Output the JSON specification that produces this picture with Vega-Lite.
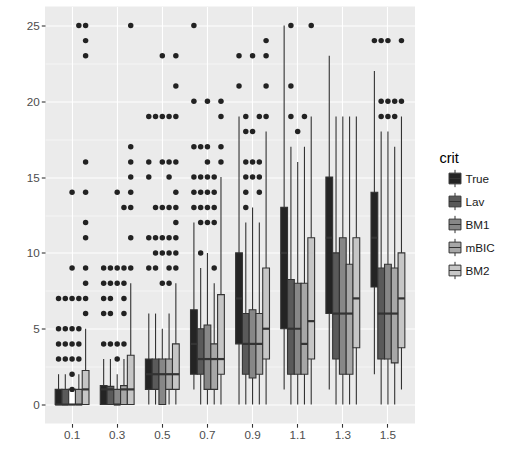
{
  "$schema": "https://vega.github.io/schema/vega-lite/v6.json",
  "width": 370,
  "height": 417,
  "padding": {"left": 25, "top": 6.5, "right": 5, "bottom": 5},
  "background": "white",
  "config": {
    "view": {"fill": "#EBEBEB", "stroke": null},
    "font": "Liberation Sans",
    "axis": {
      "domain": false,
      "grid": true,
      "gridColor": "#FFFFFF",
      "gridWidth": 1.1,
      "tickColor": "#333333",
      "tickSize": 3.7,
      "tickWidth": 1.1,
      "labelColor": "#4D4D4D",
      "labelFontSize": 11.7,
      "labelPadding": 2,
      "title": null
    }
  },
  "datasets": {
    "boxes": [
      {"x": "0.1", "crit": "True", "lower": 0, "q1": 0, "median": 0, "q3": 1, "upper": 2},
      {"x": "0.1", "crit": "Lav", "lower": 0, "q1": 0, "median": 0, "q3": 1, "upper": 2},
      {"x": "0.1", "crit": "BM1", "lower": 0, "q1": 0, "median": 0, "q3": 1, "upper": 1},
      {"x": "0.1", "crit": "mBIC", "lower": 0, "q1": 0, "median": 0, "q3": 1, "upper": 2},
      {"x": "0.1", "crit": "BM2", "lower": 0, "q1": 0, "median": 1, "q3": 2.25, "upper": 5},
      {"x": "0.3", "crit": "True", "lower": 0, "q1": 0, "median": 1, "q3": 1.25, "upper": 3},
      {"x": "0.3", "crit": "Lav", "lower": 0, "q1": 0, "median": 1, "q3": 1.2, "upper": 3},
      {"x": "0.3", "crit": "BM1", "lower": 0, "q1": 0, "median": 0, "q3": 1, "upper": 2},
      {"x": "0.3", "crit": "mBIC", "lower": 0, "q1": 0, "median": 1, "q3": 1.25, "upper": 3},
      {"x": "0.3", "crit": "BM2", "lower": 0, "q1": 0, "median": 1, "q3": 3.25, "upper": 8},
      {"x": "0.5", "crit": "True", "lower": 0, "q1": 1, "median": 2, "q3": 3, "upper": 6},
      {"x": "0.5", "crit": "Lav", "lower": 0, "q1": 1, "median": 2, "q3": 3, "upper": 6},
      {"x": "0.5", "crit": "BM1", "lower": 0, "q1": 0, "median": 2, "q3": 3, "upper": 5},
      {"x": "0.5", "crit": "mBIC", "lower": 0, "q1": 1, "median": 2, "q3": 3, "upper": 6},
      {"x": "0.5", "crit": "BM2", "lower": 0, "q1": 1, "median": 2, "q3": 4, "upper": 8},
      {"x": "0.7", "crit": "True", "lower": 1, "q1": 2, "median": 4, "q3": 6.25, "upper": 12},
      {"x": "0.7", "crit": "Lav", "lower": 0, "q1": 2, "median": 3, "q3": 5, "upper": 9},
      {"x": "0.7", "crit": "BM1", "lower": 0, "q1": 1, "median": 3, "q3": 5.25, "upper": 10},
      {"x": "0.7", "crit": "mBIC", "lower": 0, "q1": 1, "median": 3, "q3": 4, "upper": 8},
      {"x": "0.7", "crit": "BM2", "lower": 0, "q1": 2, "median": 3, "q3": 7.25, "upper": 15},
      {"x": "0.9", "crit": "True", "lower": 0, "q1": 4, "median": 7, "q3": 10, "upper": 19},
      {"x": "0.9", "crit": "Lav", "lower": 0, "q1": 2, "median": 4, "q3": 6, "upper": 12},
      {"x": "0.9", "crit": "BM1", "lower": 0, "q1": 1.75, "median": 4, "q3": 6.25, "upper": 13},
      {"x": "0.9", "crit": "mBIC", "lower": 0, "q1": 2, "median": 4, "q3": 6, "upper": 12},
      {"x": "0.9", "crit": "BM2", "lower": 0, "q1": 3, "median": 5, "q3": 9, "upper": 18},
      {"x": "1.1", "crit": "True", "lower": 1, "q1": 5, "median": 10, "q3": 13, "upper": 25},
      {"x": "1.1", "crit": "Lav", "lower": 0, "q1": 2, "median": 5, "q3": 8.25, "upper": 17},
      {"x": "1.1", "crit": "BM1", "lower": 0, "q1": 2, "median": 5, "q3": 8, "upper": 16},
      {"x": "1.1", "crit": "mBIC", "lower": 0, "q1": 2, "median": 4, "q3": 8, "upper": 17},
      {"x": "1.1", "crit": "BM2", "lower": 0, "q1": 3, "median": 5.5, "q3": 11, "upper": 19},
      {"x": "1.3", "crit": "True", "lower": 1, "q1": 6, "median": 11, "q3": 15, "upper": 23},
      {"x": "1.3", "crit": "Lav", "lower": 0, "q1": 3, "median": 6, "q3": 10, "upper": 19},
      {"x": "1.3", "crit": "BM1", "lower": 0, "q1": 2, "median": 6, "q3": 11, "upper": 19},
      {"x": "1.3", "crit": "mBIC", "lower": 0, "q1": 2, "median": 6, "q3": 9.25, "upper": 19},
      {"x": "1.3", "crit": "BM2", "lower": 0, "q1": 3.75, "median": 7, "q3": 11, "upper": 19},
      {"x": "1.5", "crit": "True", "lower": 2, "q1": 7.75, "median": 11, "q3": 14, "upper": 22},
      {"x": "1.5", "crit": "Lav", "lower": 0, "q1": 3, "median": 6, "q3": 9, "upper": 18},
      {"x": "1.5", "crit": "BM1", "lower": 0, "q1": 3, "median": 6, "q3": 9.25, "upper": 18},
      {"x": "1.5", "crit": "mBIC", "lower": 0, "q1": 2.75, "median": 6, "q3": 9, "upper": 17},
      {"x": "1.5", "crit": "BM2", "lower": 1, "q1": 3.75, "median": 7, "q3": 10, "upper": 19}
    ],
    "outliers": [
      {"x": "0.1", "crit": "True", "value": 7}, {"x": "0.1", "crit": "True", "value": 5}, {"x": "0.1", "crit": "True", "value": 4}, {"x": "0.1", "crit": "True", "value": 3},
      {"x": "0.1", "crit": "Lav", "value": 7}, {"x": "0.1", "crit": "Lav", "value": 5}, {"x": "0.1", "crit": "Lav", "value": 4}, {"x": "0.1", "crit": "Lav", "value": 3},
      {"x": "0.1", "crit": "BM1", "value": 14}, {"x": "0.1", "crit": "BM1", "value": 9}, {"x": "0.1", "crit": "BM1", "value": 7}, {"x": "0.1", "crit": "BM1", "value": 5}, {"x": "0.1", "crit": "BM1", "value": 4}, {"x": "0.1", "crit": "BM1", "value": 3}, {"x": "0.1", "crit": "BM1", "value": 2}, {"x": "0.1", "crit": "BM1", "value": 1},
      {"x": "0.1", "crit": "mBIC", "value": 25}, {"x": "0.1", "crit": "mBIC", "value": 7}, {"x": "0.1", "crit": "mBIC", "value": 5}, {"x": "0.1", "crit": "mBIC", "value": 4}, {"x": "0.1", "crit": "mBIC", "value": 3},
      {"x": "0.1", "crit": "BM2", "value": 25}, {"x": "0.1", "crit": "BM2", "value": 24}, {"x": "0.1", "crit": "BM2", "value": 23}, {"x": "0.1", "crit": "BM2", "value": 16}, {"x": "0.1", "crit": "BM2", "value": 14}, {"x": "0.1", "crit": "BM2", "value": 12}, {"x": "0.1", "crit": "BM2", "value": 11}, {"x": "0.1", "crit": "BM2", "value": 9}, {"x": "0.1", "crit": "BM2", "value": 8}, {"x": "0.1", "crit": "BM2", "value": 7}, {"x": "0.1", "crit": "BM2", "value": 6},
      {"x": "0.3", "crit": "True", "value": 9}, {"x": "0.3", "crit": "True", "value": 8}, {"x": "0.3", "crit": "True", "value": 7}, {"x": "0.3", "crit": "True", "value": 6}, {"x": "0.3", "crit": "True", "value": 4},
      {"x": "0.3", "crit": "Lav", "value": 9}, {"x": "0.3", "crit": "Lav", "value": 8}, {"x": "0.3", "crit": "Lav", "value": 7}, {"x": "0.3", "crit": "Lav", "value": 6}, {"x": "0.3", "crit": "Lav", "value": 4},
      {"x": "0.3", "crit": "BM1", "value": 14}, {"x": "0.3", "crit": "BM1", "value": 9}, {"x": "0.3", "crit": "BM1", "value": 8}, {"x": "0.3", "crit": "BM1", "value": 4}, {"x": "0.3", "crit": "BM1", "value": 3},
      {"x": "0.3", "crit": "mBIC", "value": 13}, {"x": "0.3", "crit": "mBIC", "value": 9}, {"x": "0.3", "crit": "mBIC", "value": 8}, {"x": "0.3", "crit": "mBIC", "value": 7}, {"x": "0.3", "crit": "mBIC", "value": 6}, {"x": "0.3", "crit": "mBIC", "value": 4},
      {"x": "0.3", "crit": "BM2", "value": 25}, {"x": "0.3", "crit": "BM2", "value": 17}, {"x": "0.3", "crit": "BM2", "value": 16}, {"x": "0.3", "crit": "BM2", "value": 15}, {"x": "0.3", "crit": "BM2", "value": 14}, {"x": "0.3", "crit": "BM2", "value": 13}, {"x": "0.3", "crit": "BM2", "value": 11}, {"x": "0.3", "crit": "BM2", "value": 9},
      {"x": "0.5", "crit": "True", "value": 19}, {"x": "0.5", "crit": "True", "value": 16}, {"x": "0.5", "crit": "True", "value": 15}, {"x": "0.5", "crit": "True", "value": 11}, {"x": "0.5", "crit": "True", "value": 9},
      {"x": "0.5", "crit": "Lav", "value": 19}, {"x": "0.5", "crit": "Lav", "value": 13}, {"x": "0.5", "crit": "Lav", "value": 11}, {"x": "0.5", "crit": "Lav", "value": 10}, {"x": "0.5", "crit": "Lav", "value": 9},
      {"x": "0.5", "crit": "BM1", "value": 23}, {"x": "0.5", "crit": "BM1", "value": 19}, {"x": "0.5", "crit": "BM1", "value": 16}, {"x": "0.5", "crit": "BM1", "value": 13}, {"x": "0.5", "crit": "BM1", "value": 11}, {"x": "0.5", "crit": "BM1", "value": 10}, {"x": "0.5", "crit": "BM1", "value": 8},
      {"x": "0.5", "crit": "mBIC", "value": 19}, {"x": "0.5", "crit": "mBIC", "value": 16}, {"x": "0.5", "crit": "mBIC", "value": 15}, {"x": "0.5", "crit": "mBIC", "value": 13}, {"x": "0.5", "crit": "mBIC", "value": 11}, {"x": "0.5", "crit": "mBIC", "value": 10}, {"x": "0.5", "crit": "mBIC", "value": 9}, {"x": "0.5", "crit": "mBIC", "value": 8},
      {"x": "0.5", "crit": "BM2", "value": 23}, {"x": "0.5", "crit": "BM2", "value": 21}, {"x": "0.5", "crit": "BM2", "value": 19}, {"x": "0.5", "crit": "BM2", "value": 16}, {"x": "0.5", "crit": "BM2", "value": 14}, {"x": "0.5", "crit": "BM2", "value": 13}, {"x": "0.5", "crit": "BM2", "value": 12}, {"x": "0.5", "crit": "BM2", "value": 11}, {"x": "0.5", "crit": "BM2", "value": 10}, {"x": "0.5", "crit": "BM2", "value": 9},
      {"x": "0.7", "crit": "True", "value": 25}, {"x": "0.7", "crit": "True", "value": 20}, {"x": "0.7", "crit": "True", "value": 17}, {"x": "0.7", "crit": "True", "value": 15}, {"x": "0.7", "crit": "True", "value": 14}, {"x": "0.7", "crit": "True", "value": 13},
      {"x": "0.7", "crit": "Lav", "value": 17}, {"x": "0.7", "crit": "Lav", "value": 15}, {"x": "0.7", "crit": "Lav", "value": 14}, {"x": "0.7", "crit": "Lav", "value": 13}, {"x": "0.7", "crit": "Lav", "value": 12}, {"x": "0.7", "crit": "Lav", "value": 10},
      {"x": "0.7", "crit": "BM1", "value": 20}, {"x": "0.7", "crit": "BM1", "value": 17}, {"x": "0.7", "crit": "BM1", "value": 16}, {"x": "0.7", "crit": "BM1", "value": 15}, {"x": "0.7", "crit": "BM1", "value": 14}, {"x": "0.7", "crit": "BM1", "value": 13}, {"x": "0.7", "crit": "BM1", "value": 12},
      {"x": "0.7", "crit": "mBIC", "value": 15}, {"x": "0.7", "crit": "mBIC", "value": 14}, {"x": "0.7", "crit": "mBIC", "value": 13}, {"x": "0.7", "crit": "mBIC", "value": 12}, {"x": "0.7", "crit": "mBIC", "value": 9},
      {"x": "0.7", "crit": "BM2", "value": 20}, {"x": "0.7", "crit": "BM2", "value": 19}, {"x": "0.7", "crit": "BM2", "value": 17}, {"x": "0.7", "crit": "BM2", "value": 16},
      {"x": "0.9", "crit": "True", "value": 23}, {"x": "0.9", "crit": "True", "value": 21},
      {"x": "0.9", "crit": "Lav", "value": 19}, {"x": "0.9", "crit": "Lav", "value": 18}, {"x": "0.9", "crit": "Lav", "value": 16}, {"x": "0.9", "crit": "Lav", "value": 15}, {"x": "0.9", "crit": "Lav", "value": 14}, {"x": "0.9", "crit": "Lav", "value": 13},
      {"x": "0.9", "crit": "BM1", "value": 23}, {"x": "0.9", "crit": "BM1", "value": 18}, {"x": "0.9", "crit": "BM1", "value": 16}, {"x": "0.9", "crit": "BM1", "value": 15},
      {"x": "0.9", "crit": "mBIC", "value": 19}, {"x": "0.9", "crit": "mBIC", "value": 16}, {"x": "0.9", "crit": "mBIC", "value": 15}, {"x": "0.9", "crit": "mBIC", "value": 14},
      {"x": "0.9", "crit": "BM2", "value": 24}, {"x": "0.9", "crit": "BM2", "value": 23}, {"x": "0.9", "crit": "BM2", "value": 21}, {"x": "0.9", "crit": "BM2", "value": 19},
      {"x": "1.1", "crit": "Lav", "value": 25}, {"x": "1.1", "crit": "Lav", "value": 21}, {"x": "1.1", "crit": "Lav", "value": 19},
      {"x": "1.1", "crit": "BM1", "value": 18},
      {"x": "1.1", "crit": "mBIC", "value": 19},
      {"x": "1.1", "crit": "BM2", "value": 25},
      {"x": "1.5", "crit": "True", "value": 24},
      {"x": "1.5", "crit": "Lav", "value": 24}, {"x": "1.5", "crit": "Lav", "value": 20}, {"x": "1.5", "crit": "Lav", "value": 19},
      {"x": "1.5", "crit": "BM1", "value": 24}, {"x": "1.5", "crit": "BM1", "value": 20}, {"x": "1.5", "crit": "BM1", "value": 19},
      {"x": "1.5", "crit": "mBIC", "value": 20}, {"x": "1.5", "crit": "mBIC", "value": 19},
      {"x": "1.5", "crit": "BM2", "value": 24}, {"x": "1.5", "crit": "BM2", "value": 20}
    ]
  },
  "encoding": {
    "x": {
      "field": "x", "type": "nominal",
      "scale": {"domain": ["0.1", "0.3", "0.5", "0.7", "0.9", "1.1", "1.3", "1.5"], "paddingInner": 0, "paddingOuter": 0.1},
      "axis": {"labelAngle": 0, "bandPosition": 0.5, "labelPadding": 2.5}
    },
    "xOffset": {
      "field": "crit", "type": "nominal",
      "scale": {"domain": ["True", "Lav", "BM1", "mBIC", "BM2"], "paddingInner": 0, "paddingOuter": 0.8333}
    }
  },
  "layer": [
    {
      "data": {"name": "boxes"},
      "mark": {"type": "rule", "color": "#333333", "strokeWidth": 1.1},
      "encoding": {
        "y": {"field": "lower", "type": "quantitative",
          "scale": {"domain": [-1.25, 26.25], "nice": false, "zero": false},
          "axis": {
            "values": [0, 2.5, 5, 7.5, 10, 12.5, 15, 17.5, 20, 22.5, 25],
            "labelExpr": "datum.value % 5 === 0 ? '' + datum.value : ''",
            "gridWidth": {"condition": {"test": "datum.value % 5 !== 0", "value": 0.55}, "value": 1.1},
            "tickOpacity": {"condition": {"test": "datum.value % 5 !== 0", "value": 0}, "value": 1},
            "minExtent": 20, "maxExtent": 20
          }
        },
        "y2": {"field": "upper"}
      }
    },
    {
      "data": {"name": "boxes"},
      "mark": {"type": "bar", "stroke": "#333333", "strokeWidth": 1.1},
      "encoding": {
        "y": {"field": "q1", "type": "quantitative"},
        "y2": {"field": "q3"},
        "fill": {
          "condition": {"test": "datum.x === '0.1' && datum.crit === 'BM1'", "value": "#FFFFFF"},
          "field": "crit", "type": "nominal",
          "scale": {"domain": ["True", "Lav", "BM1", "mBIC", "BM2"], "range": ["#242424", "#5A5A5A", "#878787", "#A7A7A7", "#C6C6C6"]},
          "legend": {
            "title": "crit",
            "orient": "none",
            "legendX": 394.5,
            "legendY": 145,
            "padding": 0,
            "titleFontSize": 14.5,
            "titleFontWeight": "normal",
            "titleColor": "#000000",
            "titlePadding": 3,
            "labelFontSize": 11.7,
            "labelColor": "#1A1A1A",
            "labelOffset": 1,
            "symbolType": "M-0.69,-0.62H0.69V0.62H-0.69Z M-0.69,0H0.69 M0,-1V-0.62 M0,0.62V1",
            "symbolSize": 299,
            "symbolStrokeColor": "#333333",
            "symbolStrokeWidth": 1,
            "symbolOffset": 6,
            "rowPadding": 0
          }
        }
      }
    },
    {
      "data": {"name": "boxes"},
      "mark": {"type": "tick", "color": "#333333", "thickness": 2.2, "size": 6.8, "opacity": 1},
      "encoding": {
        "y": {"field": "median", "type": "quantitative"}
      }
    },
    {
      "data": {"name": "outliers"},
      "mark": {"type": "circle", "color": "#222222", "size": 30, "opacity": 1},
      "encoding": {
        "y": {"field": "value", "type": "quantitative"}
      }
    }
  ]
}
